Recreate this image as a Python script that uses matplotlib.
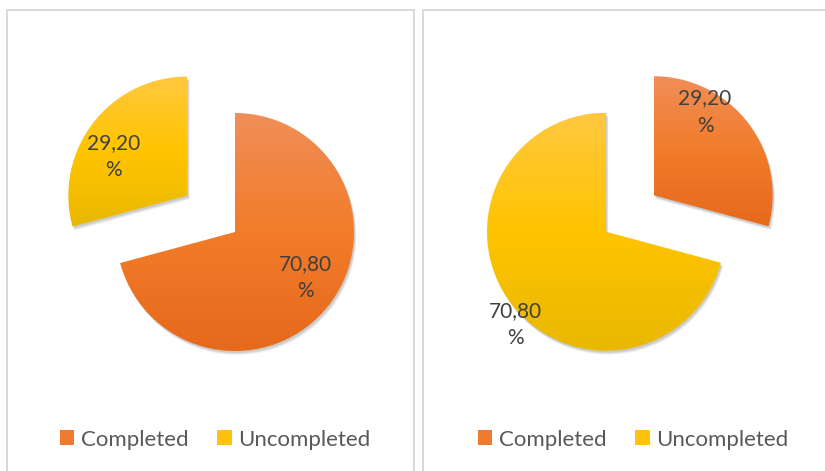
import numpy as np
import matplotlib
matplotlib.use("Agg")
import matplotlib.pyplot as plt
from matplotlib.patches import Rectangle, Patch
from matplotlib.legend import Legend
from matplotlib.colors import to_rgb

# ---------------- data ----------------
categories = ["Completed", "Uncompleted"]
left_values = [70.80, 29.20]      # Completed, Uncompleted (left chart)
right_values = [29.20, 70.80]     # Completed, Uncompleted (right chart)
left_labels = ["70,80\n%", "29,20\n%"]
right_labels = ["29,20\n%", "70,80\n%"]

# ---------------- style ----------------
W, H = 825, 471
FONT = ["Lato", "DejaVu Sans"]
grad_top = {"Completed": "#F08E58", "Uncompleted": "#FFC83F"}
grad_mid = {"Completed": "#F27C2A", "Uncompleted": "#FFC400"}
grad_bot = {"Completed": "#E6691C", "Uncompleted": "#E9B800"}
legend_col = {"Completed": "#EE7B30", "Uncompleted": "#FFC20E"}

fig = plt.figure(figsize=(W / 100, H / 100), dpi=100)
ax = fig.add_axes([0, 0, 1, 1])
ax.set_axis_off()


def py(y):  # pixel row -> data y (y up)
    return H - y


def gradient(cat, n=256):
    t = np.linspace(0, 1, n)
    top, mid, bot = (np.array(to_rgb(c)) for c in (grad_top[cat], grad_mid[cat], grad_bot[cat]))
    g = np.where(t[:, None] < 0.5,
                 top + (mid - top) * (t[:, None] / 0.5),
                 mid + (bot - mid) * ((t[:, None] - 0.5) / 0.5))
    return g[:, None, :]


def draw_pie(values, explode, center, radius, labels, label_pos):
    # soft shadow
    for k, a in [(4, 0.05), (3, 0.07), (2, 0.09)]:
        ax.pie(values, explode=explode, startangle=90, counterclock=False,
               radius=radius, center=(center[0] + k * 0.6, center[1] - k),
               colors=["#000000"] * len(values),
               wedgeprops=dict(alpha=a, linewidth=0), frame=True)
    wedges, _ = ax.pie(values, explode=explode, startangle=90, counterclock=False,
                       radius=radius, center=center,
                       colors=["none"] * len(values),
                       wedgeprops=dict(linewidth=0), frame=True)
    for w, cat in zip(wedges, categories):
        ext = w.get_path().get_extents()
        im = ax.imshow(gradient(cat), extent=(ext.x0, ext.x1, ext.y0, ext.y1),
                       aspect="auto", interpolation="bilinear", zorder=2)
        im.set_clip_path(w)
    for txt, (x, y) in zip(labels, label_pos):
        ax.text(x, py(y), txt, ha="center", va="center", multialignment="center",
                fontsize=15, color="#404040", family=FONT, linespacing=1.45, zorder=5)


# panel borders
for x0, x1 in [(7, 414), (423, 840)]:
    ax.add_patch(Rectangle((x0, py(480)), x1 - x0, 480 - 10, fill=False,
                           edgecolor="#d9d9d9", linewidth=1.4, zorder=1))

R = 119
draw_pie(left_values, [0, 60], (235, py(232)), R, left_labels,
         [(305.7, 277.5), (113.3, 156.7)])
draw_pie(right_values, [60, 0], (606, py(231.7)), R, right_labels,
         [(705, 112), (515, 324.5)])

# legends
handles = [Patch(facecolor=legend_col[c], edgecolor="none") for c in categories]
for cx in (215, 633):
    leg = Legend(ax, handles, categories, loc="center",
                 bbox_to_anchor=(cx / W, 1 - 439.5 / H),
                 bbox_transform=fig.transFigure, ncol=2, frameon=False,
                 prop={"family": FONT, "size": 16}, labelcolor="#595959",
                 handlelength=0.65, handleheight=0.65, handletextpad=0.3,
                 columnspacing=1.3, borderpad=0, borderaxespad=0)
    ax.add_artist(leg)

ax.set_xlim(0, W)
ax.set_ylim(0, H)
ax.set_aspect("auto")
fig.savefig("out.png", dpi=100)
